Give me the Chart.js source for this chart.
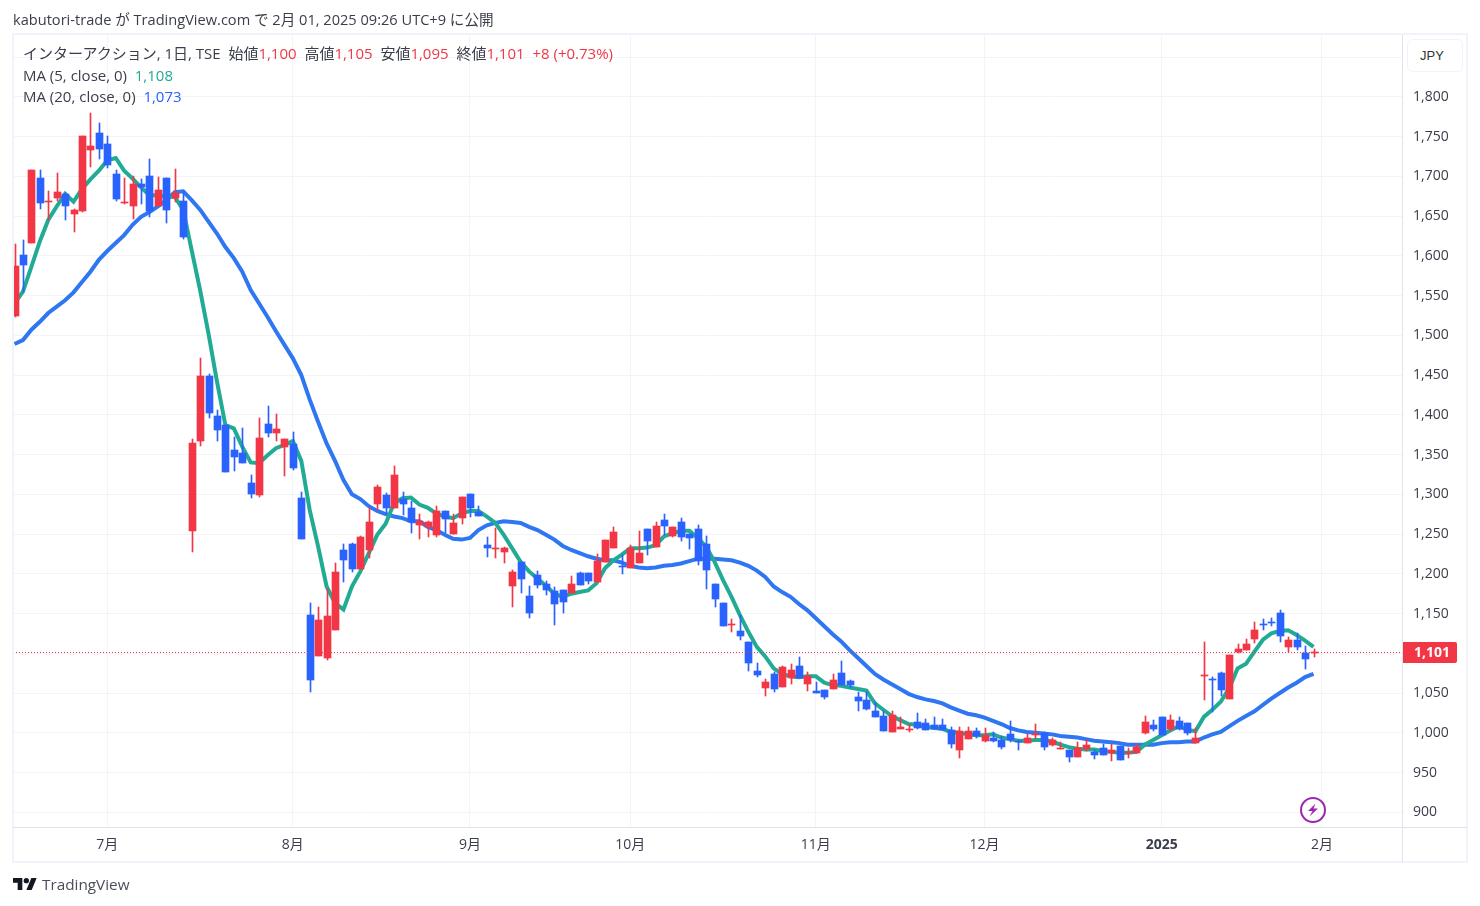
<!DOCTYPE html>
<html>
<head>
<meta charset="utf-8">
<title>インターアクション</title>
<script src="https://cdn.jsdelivr.net/npm/chart.js@4"></script>
<style>
  body { margin: 0; background: #fff; width: 1480px; height: 906px; overflow: hidden; position: relative; }
  canvas { position: absolute; left: 0; top: 0; }
  .txt { position: absolute; white-space: pre; font: 15px/20px "Open Sans", "Noto Sans CJK JP", sans-serif; color: #3a3e4a; }
  .up { color: #f23645; }
  .ma5 { color: #22ab94; }
  .ma20 { color: #2962ff; }
  #jpy { position: absolute; left: 1407px; top: 39px; width: 42px; height: 31px; padding-left: 12px; border: 1px solid #f0f3fa; border-radius: 6px;
         font: 13px "Liberation Sans", sans-serif; color: #333; line-height: 31px; background: #fff; }
</style>
</head>
<body>
<canvas id="grafica" width="1480" height="906"></canvas>

<div class="txt" style="left:13px;top:9px;font-size:14.6px">kabutori-trade が TradingView.com で 2月 01, 2025 09:26 UTC+9 に公開</div>
<div class="txt" style="left:23px;top:43px">インターアクション, 1日, TSE  始値<span class="up">1,100</span>  高値<span class="up">1,105</span>  安値<span class="up">1,095</span>  終値<span class="up">1,101</span>  <span class="up">+8 (+0.73%)</span></div>
<div class="txt" style="left:23px;top:65px">MA (5, close, 0)  <span class="ma5">1,108</span></div>
<div class="txt" style="left:23px;top:86px">MA (20, close, 0)  <span class="ma20">1,073</span></div>
<div id="jpy">JPY</div>

<svg style="position:absolute;left:1300px;top:797px" width="26" height="26" viewBox="0 0 26 26">
  <circle cx="13" cy="13" r="12" fill="#fff" stroke="#9c27b0" stroke-width="2"/>
  <path d="M15.5 6.5 L8 14 H12.5 L9.5 19.5 L18 11.5 H13.5 Z" fill="#9c27b0"/>
</svg>

<svg style="position:absolute;left:13px;top:878px" width="24" height="12" viewBox="0 4 36 18">
  <path d="M14 22H7V11H0V4h14v18zM28 22h-8l7.5-18h8L28 22z" fill="#131722"/>
  <circle cx="20" cy="8" r="4" fill="#131722"/>
</svg>
<div class="txt" style="left:42px;top:874px;font-size:15.3px;color:#4a4e5a">TradingView</div>

<script>
const opens = [
    1524,1601,1616,1698,1668,1673,1678,1653,1656,1733,
    1755,1741,1703,1666,1663,1690,1700,1663,1698,1673,
    1669,1254,1367,1449,1398,1387,1356,1352,1314,1299,
    1388,1377,1359,1363,1295,1148,1097,1094,1129,1230,
    1238,1206,1230,1288,1299,1283,1294,1283,1261,1259,
    1249,1279,1250,1270,1300,1278,1236,1231,1227,1185,
    1215,1172,1198,1187,1178,1180,1176,1201,1201,1190,
    1215,1232,1210,1207,1214,1256,1234,1268,1248,1265,
    1250,1256,1238,1187,1163,1135,1128,1114,1078,1056,
    1074,1058,1069,1084,1061,1053,1054,1055,1075,1065,
    1045,1041,1027,1021,1001,1005,1003,1014,1012,1010,
    1010,1004,978,992,1002,990,993,991,998,989,
    987,997,1000,985,980,978,969,980,976,981,
    975,983,975,975,1000,1010,1020,1005,1015,1012,
    987,1071,1067,1075,1042,1102,1104,1118,1137,1139,
    1151,1108,1117,1100,1100
];
const closes = [
    1587,1588,1708,1667,1669,1680,1663,1658,1751,1738,
    1734,1714,1672,1668,1690,1687,1656,1683,1658,1679,
    1624,1364,1449,1402,1381,1328,1347,1339,1300,1371,
    1377,1382,1369,1333,1244,1066,1142,1147,1202,1217,
    1206,1246,1265,1309,1283,1324,1288,1265,1266,1265,
    1279,1269,1264,1296,1283,1273,1232,1232,1232,1202,
    1193,1151,1186,1180,1162,1164,1187,1186,1191,1216,
    1242,1253,1209,1232,1226,1241,1260,1260,1259,1246,
    1245,1216,1205,1168,1134,1136,1122,1088,1073,1064,
    1055,1083,1079,1069,1072,1050,1045,1066,1060,1060,
    1040,1030,1020,1002,1022,1007,1004,1006,1004,1005,
    1004,986,1002,1002,996,997,990,982,991,988,
    993,998,982,991,981,969,981,985,972,972,
    978,966,976,982,1014,1005,997,1016,1005,1000,
    993,1072,1066,1054,1098,1105,1112,1129,1136,1138,
    1122,1117,1108,1093,1101
];
const highs = [
    1615,1620,1708,1708,1682,1704,1679,1659,1751,1779,
    1767,1751,1708,1698,1700,1697,1722,1699,1698,1709,
    1682,1370,1472,1451,1406,1387,1372,1383,1324,1396,
    1411,1401,1369,1378,1303,1163,1158,1181,1214,1238,
    1239,1247,1283,1312,1302,1336,1303,1292,1275,1266,
    1285,1279,1275,1297,1300,1285,1246,1258,1234,1205,
    1215,1185,1204,1191,1183,1180,1197,1202,1201,1225,
    1243,1259,1224,1236,1254,1256,1265,1275,1259,1270,
    1250,1261,1248,1187,1163,1143,1148,1114,1088,1068,
    1077,1084,1087,1095,1077,1064,1054,1074,1090,1066,
    1051,1051,1039,1027,1027,1020,1011,1025,1017,1020,
    1017,1007,1007,1007,1006,1006,1001,996,1015,991,
    998,1011,1001,993,988,978,988,991,978,986,
    986,983,981,986,1021,1016,1020,1022,1020,1012,
    1006,1114,1070,1076,1098,1112,1118,1139,1143,1144,
    1154,1120,1125,1109,1105
];
const lows = [
    1523,1555,1616,1659,1645,1669,1645,1630,1655,1712,
    1722,1711,1669,1665,1646,1665,1649,1663,1641,1668,
    1621,1227,1361,1396,1367,1328,1329,1339,1295,1297,
    1372,1367,1323,1330,1244,1051,1097,1092,1129,1190,
    1202,1206,1220,1280,1275,1283,1274,1251,1244,1246,
    1246,1251,1250,1263,1271,1273,1221,1220,1214,1158,
    1176,1144,1182,1173,1136,1151,1176,1186,1187,1190,
    1215,1232,1200,1207,1214,1224,1234,1249,1246,1241,
    1231,1211,1181,1158,1134,1127,1117,1078,1070,1046,
    1051,1057,1061,1069,1053,1050,1043,1055,1060,1056,
    1027,1029,1020,1002,1001,1005,1001,1005,1004,1005,
    1003,981,968,992,993,988,988,980,988,978,
    987,992,978,984,980,963,969,977,967,972,
    965,966,968,974,998,1002,997,1002,1004,997,
    987,1041,1026,1046,1042,1100,1104,1113,1129,1134,
    1114,1102,1104,1080,1095
];
const ma5 = [
    1540,1555,1586,1618,1645,1662,1678,1668,1684,1696,
    1707,1720,1723,1707,1697,1686,1676,1676,1675,1674,
    1658,1607,1557,1502,1442,1387,1383,1360,1340,1339,
    1349,1358,1362,1367,1342,1280,1234,1184,1163,1155,
    1184,1203,1226,1249,1263,1289,1295,1296,1287,1283,
    1276,1272,1270,1276,1279,1279,1272,1264,1249,1232,
    1215,1203,1194,1185,1175,1171,1175,1177,1179,1188,
    1207,1217,1224,1232,1232,1233,1236,1247,1251,1254,
    1254,1245,1234,1215,1192,1171,1148,1127,1108,1096,
    1081,1074,1071,1070,1071,1071,1063,1060,1059,1057,
    1055,1053,1037,1029,1021,1016,1011,1010,1008,1006,
    1005,1001,1000,998,997,997,998,994,992,990,
    990,991,991,989,985,982,980,979,979,977,
    976,975,975,976,985,991,997,1003,1008,1004,
    1002,1020,1029,1039,1056,1081,1087,1102,1117,1125,
    1128,1129,1123,1116,1108
];
const ma20 = [
    1489,1494,1507,1517,1528,1536,1544,1554,1567,1580,
    1595,1606,1616,1626,1639,1649,1655,1662,1670,1680,
    1681,1670,1658,1643,1628,1611,1597,1580,1557,1540,
    1523,1505,1488,1471,1450,1419,1391,1364,1342,1318,
    1300,1294,1285,1279,1275,1272,1270,1266,1266,1259,
    1255,1249,1244,1243,1245,1255,1261,1264,1266,1265,
    1264,1259,1255,1249,1243,1235,1230,1226,1222,1219,
    1217,1217,1214,1210,1208,1207,1208,1210,1211,1213,
    1216,1219,1219,1219,1218,1217,1214,1210,1204,1196,
    1184,1177,1171,1162,1154,1144,1134,1124,1115,1104,
    1094,1084,1074,1067,1061,1055,1049,1045,1042,1040,
    1037,1032,1028,1024,1022,1019,1015,1011,1006,1003,
    1001,1000,999,998,996,995,994,992,990,989,
    988,987,985,985,985,985,987,988,988,989,
    989,994,998,1001,1008,1015,1021,1027,1035,1043,
    1050,1057,1063,1070,1074
];
const monthLabels = ["7月", "8月", "9月", "10月", "11月", "12月", "2025", "2月"];
const monthFirstBar = [11, 33, 54, 73, 95, 115, 136, 155];
const lastPrice = 1101;

const RED = "#f23645";
const BLUE = "#2962ff";
const XMIN = -0.178, XMAX = 164.49;

const candleColor = closes.map((c, i) => c >= opens[i] ? RED : BLUE);

// snap candles to whole pixels so wicks stay crisp
const snap = {
    id: "snap",
    beforeDatasetsDraw(chart) {
        chart.getSortedVisibleDatasetMetas().forEach(meta => {
            if (meta.type !== "bar") return;
            meta.data.forEach((el, i) => {
                el.x = Math.round(chart.scales.x.getPixelForValue(i)) + 0.5;
                el.y = Math.round(el.y);
                el.base = Math.round(el.base);
                if (el.base === el.y) el.base = el.y + 1;
            });
        });
    }
};

// frame around the pane and the red price tag on the axis
const extras = {
    id: "extras",
    afterDraw(chart) {
        const { ctx, chartArea: a, scales } = chart;
        ctx.save();
        ctx.strokeStyle = "#f0f3fa";
        ctx.lineWidth = 2;
        ctx.strokeRect(a.left, a.top - 1, 1467 - a.left, 862 - a.top + 1);
        ctx.strokeStyle = "#e0e3eb";
        ctx.lineWidth = 1;
        ctx.beginPath();
        ctx.moveTo(a.right + 0.5, a.top);
        ctx.lineTo(a.right + 0.5, 862);
        ctx.moveTo(a.left, a.bottom + 0.5);
        ctx.lineTo(1467, a.bottom + 0.5);
        ctx.stroke();

        const y = scales.y.getPixelForValue(lastPrice);
        ctx.fillStyle = RED;
        ctx.beginPath();
        ctx.roundRect(a.right + 1, y - 10.5, 54, 21, [0, 2, 2, 0]);
        ctx.fill();
        ctx.fillStyle = "#fff";
        ctx.font = "bold 14px 'Open Sans', sans-serif";
        ctx.textBaseline = "middle";
        ctx.fillText("1,101", a.right + 12, y + 0.5);
        ctx.restore();
    }
};

new Chart(document.getElementById("grafica"), {
    type: "bar",
    plugins: [snap, extras],
    data: {
        datasets: [
            {
                type: "line",
                data: [{ x: XMIN, y: lastPrice }, { x: XMAX, y: lastPrice }],
                borderColor: RED,
                borderWidth: 1,
                borderDash: [1, 2],
                pointRadius: 0,
                order: 0
            },
            {
                data: closes.map((c, i) => ({ x: i, y: [opens[i], c] })),
                backgroundColor: candleColor,
                barThickness: 7,
                minBarLength: 1,
                grouped: false,
                order: 1
            },
            {
                data: highs.map((h, i) => ({ x: i, y: [lows[i], h] })),
                backgroundColor: candleColor,
                barThickness: 1,
                grouped: false,
                order: 2
            },
            {
                type: "line",
                data: ma5.map((v, i) => ({ x: i, y: v })),
                borderColor: "#22ab94",
                borderWidth: 4,
                pointRadius: 0,
                order: 3
            },
            {
                type: "line",
                data: ma20.map((v, i) => ({ x: i, y: v })),
                borderColor: "#2f76f3",
                borderWidth: 4,
                pointRadius: 0,
                order: 4
            }
        ]
    },
    options: {
        responsive: false,
        animation: false,
        events: [],
        layout: { padding: { left: 13, top: 35, right: 13, bottom: 44 } },
        plugins: { legend: { display: false }, tooltip: { enabled: false } },
        scales: {
            x: {
                type: "linear",
                offset: false,
                min: XMIN,
                max: XMAX,
                grid: { color: "#f3f4f6", offset: false, drawTicks: false },
                border: { display: false },
                afterBuildTicks(axis) {
                    axis.ticks = monthFirstBar.map(v => ({ value: v }));
                },
                afterFit(axis) { axis.height = 35; },
                ticks: {
                    autoSkip: false,
                    maxRotation: 0,
                    padding: 10,
                    color: "#3a3e4a",
                    font: ctx => ({
                        family: "'Open Sans', 'Noto Sans CJK JP', sans-serif",
                        size: 14,
                        weight: ctx.tick && ctx.tick.value === 136 ? "bold" : "normal"
                    }),
                    callback: v => monthLabels[monthFirstBar.indexOf(v)]
                }
            },
            y: {
                type: "linear",
                position: "right",
                min: 881.5,
                max: 1877.7,
                grid: { color: "#f3f4f6", drawTicks: false },
                border: { display: false },
                afterFit(axis) { axis.width = 65; },
                ticks: {
                    stepSize: 50,
                    includeBounds: false,
                    autoSkip: false,
                    padding: 11,
                    color: "#3a3e4a",
                    font: { family: "'Open Sans', sans-serif", size: 14 },
                    callback: v => v > 1800 ? "" : v.toLocaleString("en-US")
                }
            }
        }
    }
});
</script>
</body>
</html>
